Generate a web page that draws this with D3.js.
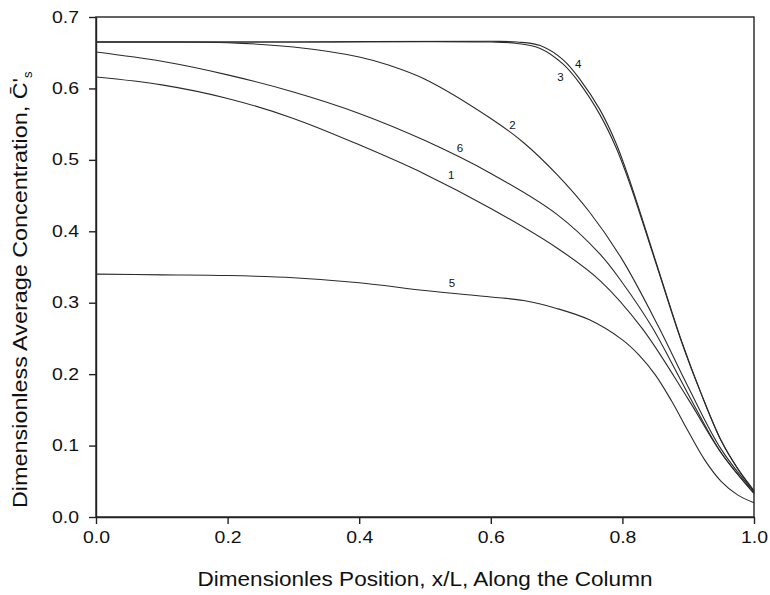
<!DOCTYPE html>
<html>
<head>
<meta charset="utf-8">
<script src="https://cdn.jsdelivr.net/npm/d3@7"></script>
<style>
  html, body { margin: 0; padding: 0; background: #fff; }
  svg { display: block; font-family: "Liberation Sans", Arial, sans-serif; }
</style>
</head>
<body>
<svg id="chart" width="770" height="595"></svg>
<script>
// ---- data ----
const xTicks = [0.0, 0.2, 0.4, 0.6, 0.8, 1.0];
const yTicks = [0.0, 0.1, 0.2, 0.3, 0.4, 0.5, 0.6, 0.7];

const curve1X = [0, 0.1, 0.2, 0.3, 0.4, 0.5, 0.6, 0.7, 0.766, 0.83, 0.9, 0.95, 1.0];
const curve1Y = [0.616, 0.605, 0.586, 0.558, 0.521, 0.480, 0.432, 0.377, 0.331, 0.264, 0.165, 0.090, 0.033];

const curve2X = [0, 0.1, 0.2, 0.3, 0.4, 0.447, 0.5, 0.6, 0.65, 0.7, 0.75, 0.8, 0.854, 0.9, 0.95, 1.0];
const curve2Y = [0.665, 0.665, 0.664, 0.658, 0.644, 0.632, 0.613, 0.558, 0.524, 0.480, 0.427, 0.360, 0.268, 0.182, 0.095, 0.035];

const curve3X = [0, 0.3, 0.6, 0.64, 0.675, 0.71, 0.736, 0.766, 0.79, 0.81, 0.85, 0.89, 0.92, 0.95, 0.975, 1.0];
const curve3Y = [0.665, 0.665, 0.665, 0.663, 0.656, 0.634, 0.606, 0.563, 0.518, 0.470, 0.358, 0.245, 0.172, 0.107, 0.068, 0.036];

const curve4X = [0, 0.3, 0.6, 0.64, 0.675, 0.71, 0.736, 0.766, 0.79, 0.81, 0.85, 0.89, 0.92, 0.95, 0.975, 1.0];
const curve4Y = [0.665, 0.665, 0.666, 0.665, 0.660, 0.640, 0.612, 0.570, 0.524, 0.474, 0.360, 0.246, 0.172, 0.107, 0.068, 0.037];

const curve5X = [0, 0.1, 0.2, 0.3, 0.4, 0.5, 0.6, 0.65, 0.7, 0.75, 0.8, 0.825, 0.85, 0.875, 0.9, 0.925, 0.95, 0.975, 1.0];
const curve5Y = [0.340, 0.339, 0.338, 0.335, 0.328, 0.317, 0.308, 0.303, 0.292, 0.276, 0.248, 0.227, 0.199, 0.162, 0.120, 0.080, 0.050, 0.031, 0.020];

const curve6X = [0, 0.1, 0.2, 0.3, 0.4, 0.5, 0.6, 0.7, 0.766, 0.8, 0.845, 0.9, 0.95, 1.0];
const curve6Y = [0.651, 0.638, 0.619, 0.595, 0.565, 0.527, 0.481, 0.424, 0.368, 0.328, 0.266, 0.172, 0.090, 0.033];

const seriesNames = ["1", "2", "3", "4", "5", "6"];
// label anchor points in data units
const labelX = [0.540, 0.633, 0.706, 0.733, 0.541, 0.553];
const labelY = [0.477, 0.548, 0.615, 0.633, 0.326, 0.515];

// ---- layout ----
const svg = d3.select("#chart");
const margin = { left: 96, top: 17, right: 16, bottom: 75 };
const W = 770, H = 595;
const x = d3.scaleLinear().domain([0, 1]).range([margin.left, W - margin.right]);
const y = d3.scaleLinear().domain([0, 0.7]).range([H - margin.bottom - 3, margin.top]);

const ink = "#222";

// frame
svg.append("rect")
  .attr("x", x(0)).attr("y", y(0.7))
  .attr("width", x(1) - x(0)).attr("height", y(0) - y(0.7))
  .attr("fill", "none").attr("stroke", ink).attr("stroke-width", 1.4);

// axes
const xAxis = d3.axisBottom(x).tickValues(xTicks).tickFormat(d3.format(".1f")).tickSize(7).tickSizeOuter(0);
const yAxis = d3.axisLeft(y).tickValues(yTicks).tickFormat(d3.format(".1f")).tickSize(7).tickSizeOuter(0);

const gx = svg.append("g").attr("transform", `translate(0,${y(0)})`).call(xAxis);
const gy = svg.append("g").attr("transform", `translate(${x(0)},0)`).call(yAxis);
[gx, gy].forEach(g => {
  g.select(".domain").attr("stroke", ink).attr("stroke-width", 1.4);
  g.selectAll(".tick line").attr("stroke", ink).attr("stroke-width", 1.4);
  g.selectAll(".tick text").attr("fill", "#111")
    .style("font-family", "'Liberation Sans', Arial, sans-serif").style("font-size", "16px")
    .attr("textLength", 27).attr("lengthAdjust", "spacingAndGlyphs");
});
gx.selectAll(".tick text").attr("dy", "1.05em").attr("y", 9);
gy.selectAll(".tick text").attr("x", -17);

// curves
const seriesX = [curve1X, curve2X, curve3X, curve4X, curve5X, curve6X];
const seriesY = [curve1Y, curve2Y, curve3Y, curve4Y, curve5Y, curve6Y];
const line = d3.line().x(d => x(d[0])).y(d => y(d[1])).curve(d3.curveCatmullRom.alpha(0.5));

seriesX.forEach((xs, i) => {
  const pts = xs.map((v, j) => [v, seriesY[i][j]]);
  svg.append("path").attr("d", line(pts))
    .attr("fill", "none").attr("stroke", "#2a2a2a").attr("stroke-width", 1.1);
});

// curve labels
seriesNames.forEach((n, i) => {
  svg.append("text").attr("x", x(labelX[i])).attr("y", y(labelY[i]))
    .attr("text-anchor", "middle").attr("dominant-baseline", "middle")
    .style("font-size", "11.5px").attr("fill", "#111").text(n);
});

// axis titles
svg.append("text")
  .attr("x", x(0.5)).attr("y", 586)
  .attr("text-anchor", "middle").style("font-size", "19.5px").attr("fill", "#111")
  .attr("textLength", 455).attr("lengthAdjust", "spacingAndGlyphs")
  .text("Dimensionles Position, x/L, Along the Column");

const yt = svg.append("text")
  .attr("transform", `translate(27,${508}) rotate(-90)`)
  .attr("text-anchor", "start").style("font-size", "19.5px").attr("fill", "#111");
yt.append("tspan").attr("textLength", 430).attr("lengthAdjust", "spacingAndGlyphs")
  .text("Dimensionless Average Concentration, C\u0304'");
yt.append("tspan").attr("dy", 5).style("font-size", "13px").text("s");
</script>
</body>
</html>
